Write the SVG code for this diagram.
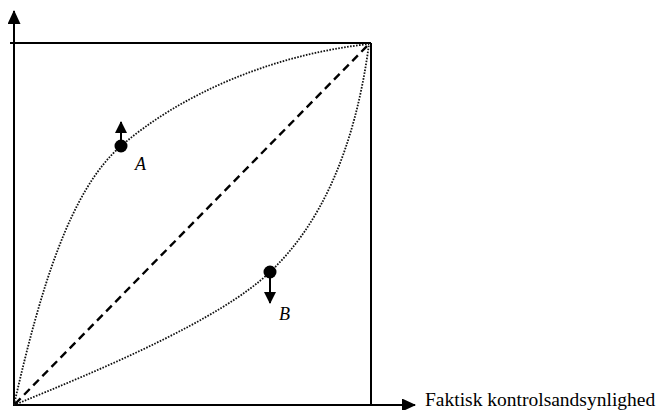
<svg xmlns="http://www.w3.org/2000/svg" width="661" height="410" viewBox="0 0 661 410">
<defs>
<style>
.ax{stroke:#000;stroke-width:2;fill:none}
.dot{stroke:#111;stroke-width:1.8;fill:none;stroke-dasharray:1.6 1.4}
.dash{stroke:#000;stroke-width:2.4;fill:none;stroke-dasharray:8 5}
.lbl{font-family:"Liberation Serif",serif;fill:#000}
.it{font-style:italic;font-size:18px}
</style>
<marker id="ah" viewBox="0 0 14 13" refX="13" refY="6.5" markerWidth="14" markerHeight="13" orient="auto" markerUnits="userSpaceOnUse">
<path d="M0,0 L14,6.5 L0,13 Z" fill="#000"/>
</marker>
<marker id="sh" viewBox="0 0 12 12" refX="11" refY="6" markerWidth="12" markerHeight="12" orient="auto" markerUnits="userSpaceOnUse">
<path d="M0,0 L12,6 L0,12 Z" fill="#000"/>
</marker>
</defs>
<rect width="661" height="410" fill="#fff"/>
<g id="axes">
<line class="ax" x1="14" y1="406" x2="14" y2="11" marker-end="url(#ah)"/>
<line class="ax" x1="13" y1="405" x2="415" y2="405" marker-end="url(#ah)"/>
</g>
<g id="frame">
<line class="ax" x1="10" y1="43" x2="371" y2="43"/>
<line class="ax" x1="371" y1="43" x2="371" y2="405"/>
</g>
<g id="connectors">
<path class="dash" d="M15,404 L369,44"/>
<path class="dot" d="M14,405 C40,290 70,190 121,146 C180,95 270,55 369,44"/>
<path class="dot" d="M14,405 C100,370 220,320 270,272 C320,225 355,150 369,44"/>
</g>
<g id="pointA">
<circle cx="121" cy="146" r="6.5" fill="#000"/>
<line class="ax" x1="121" y1="146" x2="121" y2="122" marker-end="url(#sh)"/>
<text class="lbl it" x="135" y="170">A</text>
</g>
<g id="pointB">
<circle cx="270" cy="272" r="6.5" fill="#000"/>
<line class="ax" x1="270" y1="272" x2="270" y2="303" marker-end="url(#sh)"/>
<text class="lbl it" x="279" y="320">B</text>
</g>
<g id="xlabel">
<text class="lbl" x="425" y="405.5" font-size="19.5">Faktisk kontrolsandsynlighed</text>
</g>
</svg>
